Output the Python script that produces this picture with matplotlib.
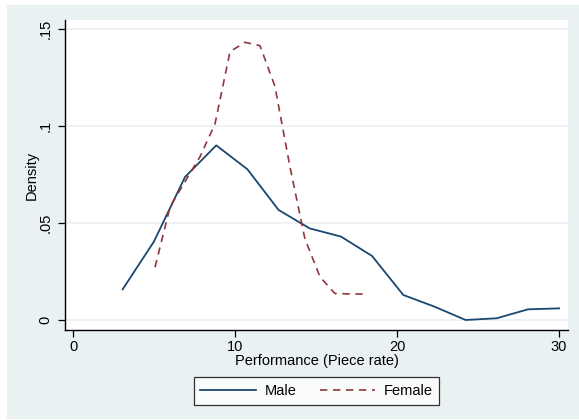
import matplotlib
matplotlib.use("Agg")
import matplotlib.pyplot as plt
from matplotlib.patches import Rectangle

# Kernel density estimates of piece-rate performance by gender
male_x = [3.05, 4.98, 6.90, 8.83, 10.75, 12.68, 14.60, 16.53, 18.45, 20.38,
          22.30, 24.23, 26.15, 28.08, 30.00]
male_density = [0.0158, 0.0404, 0.0737, 0.0900, 0.0777, 0.0567, 0.0472, 0.0430,
                0.0330, 0.0129, 0.0069, 0.0000, 0.0009, 0.0055, 0.0060]

female_x = [5.05, 5.98, 6.90, 7.83, 8.75, 9.68, 10.60, 11.53, 12.45, 13.38,
            14.30, 15.23, 16.15, 17.08, 18.00]
female_density = [0.0272, 0.0584, 0.0713, 0.0842, 0.1010, 0.1383, 0.1431, 0.1414,
                  0.1205, 0.0790, 0.0420, 0.0223, 0.0137, 0.0134, 0.0134]

x_ticks = [0, 10, 20, 30]
y_ticks = [0, 0.05, 0.10, 0.15]
y_tick_labels = ["0", ".05", ".1", ".15"]

W, H = 579, 420
BG = "#eaf1f3"
MALE_COLOR = "#1a476f"
FEMALE_COLOR = "#90353b"

plt.rcParams["font.family"] = ["Liberation Sans", "DejaVu Sans"]
plt.rcParams["font.size"] = 10.5

fig = plt.figure(figsize=(W / 100, H / 100), dpi=100, facecolor="white")
fig.patches.append(Rectangle((7 / W, 1 / H), 1 - 7 / W, (H - 6) / H,
                             transform=fig.transFigure, facecolor=BG,
                             edgecolor="none", zorder=-10))

ax = fig.add_axes([65 / W, (H - 330) / H, (568 - 65) / W, (330 - 20) / H])
ax.set_facecolor("white")

for y in y_ticks:
    ax.axhline(y, color=BG, lw=1.2, zorder=0)

ax.plot(male_x, male_density, color=MALE_COLOR, lw=1.3, label="Male")
ax.plot(female_x, female_density, color=FEMALE_COLOR, lw=1.2,
        linestyle=(0, (4.4, 3.4)), label="Female")

ax.set_xlim(-0.51, 30.55)
ax.set_ylim(-0.00515, 0.1546)
ax.set_xticks(x_ticks)
ax.set_yticks(y_ticks)
ax.set_yticklabels(y_tick_labels, rotation=90, va="center")

for side in ("top", "right"):
    ax.spines[side].set_visible(False)
for side in ("left", "bottom"):
    ax.spines[side].set_linewidth(1.0)
ax.tick_params(axis="both", direction="out", length=5, width=0.9, labelsize=10.5)
ax.tick_params(axis="y", pad=4)
ax.tick_params(axis="x", pad=2.5)

ax.set_xlabel("Performance (Piece rate)", fontsize=10.5, va="center")
ax.xaxis.set_label_coords(0.5, (330 - 361) / 310)
ax.set_ylabel("Density", fontsize=10.5, va="center")
ax.yaxis.set_label_coords((32 - 65) / 503, 0.5)

leg = fig.legend(loc="center", bbox_to_anchor=(316.5 / W, 1 - 391 / H), ncol=2,
                 frameon=True, fancybox=False, handlelength=3.8,
                 handletextpad=0.6, columnspacing=1.6, borderpad=0.45,
                 fontsize=10.5)
leg.get_frame().set_edgecolor("black")
leg.get_frame().set_linewidth(0.9)
leg.get_frame().set_facecolor("white")

fig.savefig("out.png", dpi=100, facecolor=fig.get_facecolor())
